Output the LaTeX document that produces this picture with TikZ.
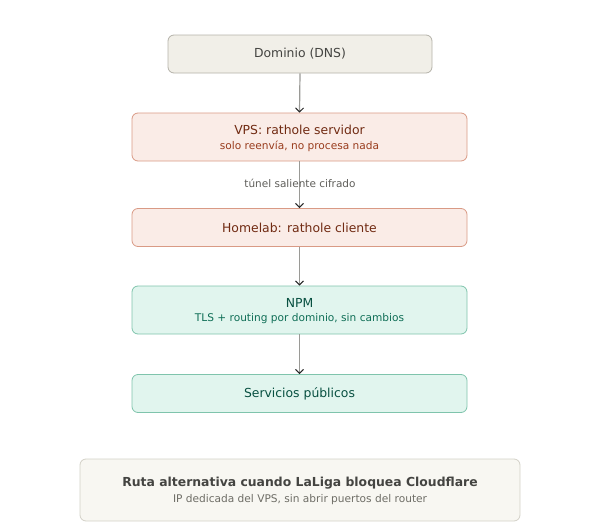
\documentclass[tikz,border=0pt]{standalone}
\usepackage{fontspec}
\setmainfont{DejaVu Sans}
\usetikzlibrary{arrows.meta}
\definecolor{grayfill}{HTML}{F1EFE8}
\definecolor{graydraw}{HTML}{B4B2A9}
\definecolor{graytext}{HTML}{444441}
\definecolor{corfill}{HTML}{FAECE7}
\definecolor{cordraw}{HTML}{D99A85}
\definecolor{cortext}{HTML}{712B13}
\definecolor{corsub}{HTML}{993C1D}
\definecolor{tealfill}{HTML}{E1F5EE}
\definecolor{tealdraw}{HTML}{7FC4AC}
\definecolor{tealtext}{HTML}{085041}
\definecolor{tealsub}{HTML}{0F6E56}
\definecolor{notefill}{HTML}{F8F7F2}
\definecolor{notedraw}{HTML}{D3D1C7}
\definecolor{notesub}{HTML}{6E6D66}
\definecolor{linegray}{HTML}{9A9A96}
\definecolor{labelgray}{HTML}{5F5E5A}
\tikzset{
  box/.style={draw, rounded corners=6pt, line width=0.8pt, minimum height=38pt, inner sep=0pt, align=center},
  graybox/.style={box, fill=grayfill, draw=graydraw, text=graytext},
  corbox/.style={box, fill=corfill, draw=cordraw, text=cortext, minimum width=335pt},
  tealbox/.style={box, fill=tealfill, draw=tealdraw, text=tealtext, minimum width=335pt},
  notebox/.style={box, fill=notefill, draw=notedraw, text=graytext, minimum width=440pt, minimum height=62pt},
  flow/.style={draw=linegray, line width=1.2pt, -{Straight Barb[length=4pt,width=8pt,line width=1pt,color=black!85]}},
  ttl/.style={font=\fontsize{12.4}{15}\selectfont},
  sub/.style={font=\fontsize{10.6}{13}\selectfont},
}
\begin{document}
\begin{tikzpicture}[x=1pt,y=-1pt]
\useasboundingbox (0,0) rectangle (600,525);
\node[graybox, minimum width=264pt, ttl] (dns) at (300,54) {Dominio (DNS)};
\node[corbox, minimum height=48pt] (vps) at (299.5,137) {};
\node[ttl, text=cortext] (vpst) at (299.5,130) {VPS: rathole servidor};
\node[sub, text=corsub] (vpss) at (299.5,146) {solo reenvía, no procesa nada};
\node[corbox, ttl] (home) at (299.5,227.5) {Homelab: rathole cliente};
\node[tealbox, minimum height=48pt] (npm) at (299.5,310) {};
\node[ttl, text=tealtext] (npmt) at (299.5,303) {NPM};
\node[sub, text=tealsub] (npms) at (299.5,319) {TLS + routing por dominio, sin cambios};
\node[tealbox, ttl] (serv) at (299.5,393.5) {Servicios públicos};
\node[notebox] (note) at (300,490) {};
\node[font=\bfseries\fontsize{12.4}{15}\selectfont, text=graytext] (notet) at (300,483) {Ruta alternativa cuando LaLiga bloquea Cloudflare};
\node[sub, text=notesub] (notes) at (300,500) {IP dedicada del VPS, sin abrir puertos del router};
\draw[flow] (dns.south) -- (vps.north);
\draw[flow] (vps.south) -- (home.north);
\node[font=\fontsize{10.5}{13}\selectfont, text=labelgray] (lbl) at (300,183) {túnel saliente cifrado};
\draw[flow] (home.south) -- (npm.north);
\draw[flow] (npm.south) -- (serv.north);
\end{tikzpicture}
\end{document}
